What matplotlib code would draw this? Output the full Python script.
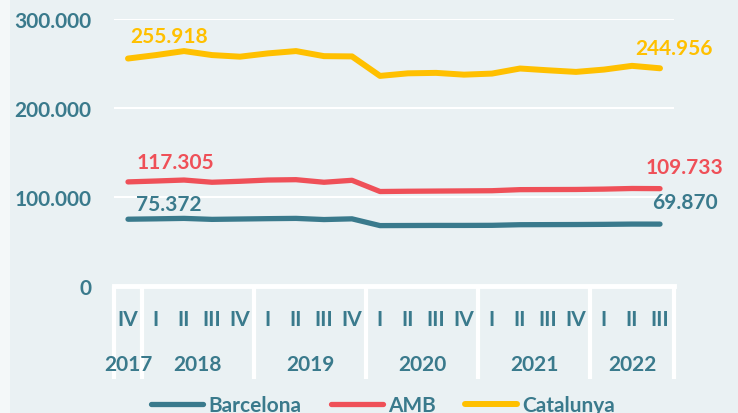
import numpy as np
import matplotlib.pyplot as plt
from matplotlib.patches import Rectangle
from matplotlib.transforms import blended_transform_factory

# quarters 2017-IV .. 2022-III
quarters = ['IV', 'I', 'II', 'III', 'IV', 'I', 'II', 'III', 'IV', 'I', 'II', 'III', 'IV',
            'I', 'II', 'III', 'IV', 'I', 'II', 'III']
years = ['2017', '2018', '2019', '2020', '2021', '2022']
year_sizes = [1, 4, 4, 4, 4, 3]

# values in thousands
barcelona = [75.372, 75.8, 76.3, 75.2, 75.6, 76.0, 76.3, 75.0, 75.8, 68.2, 68.3, 68.4,
             68.4, 68.5, 69.2, 69.3, 69.4, 69.6, 69.9, 69.870]
amb = [117.305, 118.3, 119.4, 116.9, 118.0, 119.4, 119.8, 116.9, 119.1, 106.5, 106.8, 107.0,
       107.2, 107.4, 108.6, 108.7, 108.8, 109.2, 109.9, 109.733]
catalunya = [255.918, 259.8, 264.3, 259.8, 258.0, 261.7, 264.3, 258.6, 258.3, 236.4, 239.3, 239.8,
             237.8, 239.0, 244.7, 242.7, 240.9, 243.5, 247.7, 244.956]

teal = '#3A7A8C'
red = '#EF5058'
yellow = '#FFC000'
bg = '#EAF1F3'

plt.rcParams['font.family'] = ['Lato', 'DejaVu Sans']
plt.rcParams['font.weight'] = 'bold'

fig = plt.figure(figsize=(7.38, 4.14), dpi=100, facecolor=bg)
fig.patches.append(Rectangle((0, 0), 10 / 738, 1, transform=fig.transFigure,
                             facecolor='#F4F8F9', edgecolor='none', zorder=0))
ax = fig.add_axes([114 / 738, (414 - 287.3) / 414, 560 / 738, 267 / 414])
ax.set_facecolor(bg)

x = np.arange(len(quarters))
ax.plot(x, np.array(barcelona) * 1000, color=teal, lw=3.8, solid_capstyle='round',
        label='Barcelona', zorder=3)
ax.plot(x, np.array(amb) * 1000, color=red, lw=3.8, solid_capstyle='round', label='AMB', zorder=3)
ax.plot(x, np.array(catalunya) * 1000, color=yellow, lw=4.3, solid_capstyle='round',
        label='Catalunya', zorder=3)

ax.set_xlim(-0.5, len(quarters) - 0.5)
ax.set_ylim(0, 300000)
ax.set_yticks([0, 100000, 200000, 300000])
ax.set_yticklabels(['0', '100.000', '200.000', '300.000'])
ax.tick_params(axis='y', length=0, pad=16.5, labelsize=15, labelcolor=teal)
ax.set_xticks([])
for s in ax.spines.values():
    s.set_visible(False)
for v in [100000, 200000, 300000]:
    ax.axhline(v, color='white', lw=1.5, zorder=1)
ax.axhline(0, color='white', lw=3.5, zorder=2, clip_on=False)

# category axis: quarters, years, separators
tr = blended_transform_factory(ax.transData, ax.transAxes)
bounds = np.concatenate([[0], np.cumsum(year_sizes)]) - 0.5
for b in bounds:
    ax.plot([b, b], [0, -0.347], transform=tr, color='white', lw=3, clip_on=False,
            solid_capstyle='butt')
for i, q in enumerate(quarters):
    ax.text(i, -0.122, q, transform=tr, ha='center', va='center', fontsize=15, color=teal)
for k, yr in enumerate(years):
    cx = (bounds[k] + bounds[k + 1]) / 2
    ax.text(cx, -0.29, yr, transform=tr, ha='center', va='center', fontsize=15, color=teal)

# value labels at first and last point
def label(series, idx, dx, dy, color):
    v = series[idx]
    txt = '{:.3f}'.format(v)
    ax.annotate(txt, (idx, v * 1000), xytext=(dx, dy), textcoords='offset pixels',
                ha='left', va='center', fontsize=15, color=color, fontweight='bold')

label(catalunya, 0, 2, 23, yellow)
label(amb, 0, 9, 20, red)
label(barcelona, 0, 8, 15, teal)
label(catalunya, 19, -25, 20, yellow)
label(amb, 19, -14, 22, red)
label(barcelona, 19, -8, 22, teal)

fig.legend(loc='center', bbox_to_anchor=(383 / 738, 1 - 406 / 414), ncol=3, frameon=False,
           fontsize=15, labelcolor=teal, handlelength=2.5, handletextpad=0.25,
           columnspacing=1.4, borderpad=0)

fig.savefig('out.png', dpi=100, facecolor=bg)
